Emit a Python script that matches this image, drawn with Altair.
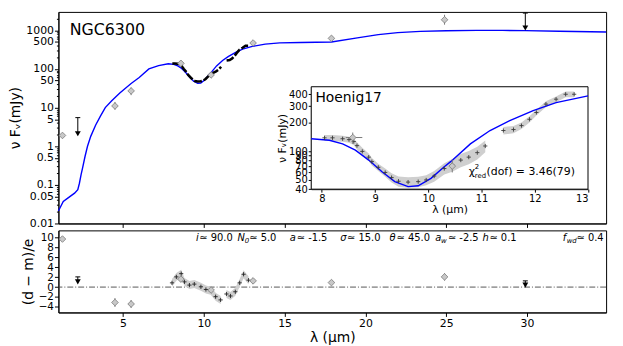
import altair as alt
import pandas as pd

# ---------------- data ----------------
# SED model (blue)
model_x = [1.0, 1.3, 1.6, 2.0, 2.2, 2.3, 2.4, 2.5, 2.65, 2.8, 3.0, 3.3, 3.6, 3.9, 4.3, 4.8,
           5.5, 6.0, 6.6, 7.2, 7.8, 8.14, 8.39, 8.63, 8.88, 9.13, 9.37, 9.62, 9.81, 10.05,
           10.3, 10.42, 10.79, 11.16, 11.53, 11.97, 12.4, 13.0, 13.8, 14.7, 16.0, 17.9,
           19.5, 20.8, 22.0, 23.4, 25.0, 26.9, 28.5, 29.9, 32.0, 34.9]
model_y = [0.021, 0.037, 0.046, 0.061, 0.075, 0.11, 0.18, 0.28, 0.55, 1.0, 1.8, 3.5, 6.0, 10,
           15, 24, 42, 60, 100, 122, 136, 131, 120, 103, 81, 61, 48, 42.6, 43.4, 52,
           69, 78, 120, 166, 211, 269, 327, 384, 440, 473, 485, 500,
           640, 775, 870, 940, 975, 1000, 995, 985, 950, 905]

# Hoenig17 spectrum
spec_x = [8.05, 8.2, 8.39, 8.51, 8.6, 8.66, 8.76, 8.88, 8.94, 9.06, 9.19, 9.31, 9.44, 9.62,
          9.81, 9.96, 10.11, 10.3, 10.45, 10.61, 10.76, 10.92, 11.07,
          11.41, 11.6, 11.75, 11.9, 12.03, 12.21, 12.4, 12.58, 12.74]
spec_y = [139, 139, 136, 133, 127, 115, 100, 87, 78, 68, 60, 53, 48.5, 47.5,
          48, 50, 55, 66, 72, 81, 87, 97, 114,
          166, 170, 187, 218, 257, 315, 355, 400, 400]
spec_err = [10, 10, 10, 10, 10, 10, 9, 8, 7, 6, 6, 6, 6, 6,
            6, 6, 7, 9, 11, 13, 14, 15, 16,
            15, 15, 15, 16, 18, 22, 25, 28, 28]
spec_seg = [0, 0, 0, 0, 0, 0, 0, 0, 0, 0, 0, 0, 0, 0,
            0, 0, 0, 0, 0, 0, 0, 0, 0,
            1, 1, 1, 1, 1, 1, 1, 1, 1]

# photometry
phot_x = [1.25, 4.5, 5.5, 8.58, 10.45, 13.05, 17.9, 24.9]
phot_y = [1.9, 11, 27, 140, 70, 470, 620, 1880]
phot_lo = [1.8, 8.8, 21, 120, 60, 430, 580, 1400]
phot_hi = [2.0, 14, 33, 158, 82, 515, 660, 2530]
phot_xlo = [1.25, 4.5, 5.5, 8.45, 10.45, 13.05, 17.9, 24.9]
phot_xhi = [1.25, 4.5, 5.5, 8.76, 10.45, 13.05, 17.9, 24.9]

ulim_x = [2.2, 29.9]
ulim_y = [2.1, 1150]
ulim_top = [5.5, 2800]

# residuals
res_phot = [9.66, -3.1, -3.4, 1.6, -0.6, 1.25, 0.9, 2.05]
res_phot_lo = [9.2, -4.0, -4.2, 1.0, -1.1, 0.7, 0.5, 1.3]
res_phot_hi = [10.1, -2.2, -2.6, 2.2, -0.1, 1.8, 1.3, 2.8]
res_ulim = [1.05, 0.4]
res_ulim_top = [2.05, 1.25]

rs_x = [8.03, 8.3, 8.6, 8.8, 9.11, 9.41, 9.82, 10.13, 10.43, 10.73, 11.04,
        11.4, 11.65, 11.95, 12.22, 12.46, 12.77]
rs_y = [0.85, 2.05, 2.7, 1.05, 0.4, 0.6, 0.06, -0.48, -0.74, -1.93, -2.58,
        -1.39, -1.79, -0.94, 0.85, 2.58, 1.39]
rs_seg = [0, 0, 0, 0, 0, 0, 0, 0, 0, 0, 0, 1, 1, 1, 1, 1, 1]

# parameter annotation
param_sym = ["i", "N", "a", "σ", "θ", "a", "h", "f"]
param_val = ["≃ 90.0", "≃ 5.0", "≃ -1.5", "≃ 15.0", "≃ 45.0", "≃ -2.5", "≃ 0.1", "≃ 0.4"]
param_sub = ["0", "w", "wd"]

# tick labels
top_major = [1000, 500, 100, 50, 10, 5, 1, 0.5, 0.1, 0.05, 0.01]
x_ticks = [5, 10, 15, 20, 25, 30]
res_ticks = [-4, -2, 0, 2, 4, 6, 8, 10]
inset_x_ticks = [8, 9, 10, 11, 12, 13]
inset_y_ticks = [40, 50, 60, 70, 80, 90, 100, 200, 300, 400]

# ---------------- layout constants ----------------
W, H_TOP, H_BOT = 554, 214, 83
FONT = "DejaVu Sans"
INSET_XR = [255.7, 535.7]
INSET_YR = [179.3, 75.7]
# annotation positions (data coordinates)
param_sym_x = [9.51, 12.08, 15.32, 18.44, 21.50, 24.32, 27.25, 32.21]
param_val_x = [9.72, 12.81, 15.75, 18.87, 21.93, 25.11, 27.68, 33.07]
param_sub_x = [12.54, 24.68, 32.46]

minor = []
for e in range(-2, 4):
    for k in [2, 3, 4, 6, 7, 8, 9]:
        v = k * 10 ** e
        if v < 3000:
            minor.append(v)
top_ticks = sorted(top_major + minor)
major_expr = "indexof(" + str(top_major) + ", datum.value) >= 0"

xs_main = alt.Scale(domain=[1.0, 34.9], nice=False, zero=False)
ys_main = alt.Scale(type="log", domain=[0.01, 3000], nice=False)
xs_in = alt.Scale(domain=[7.8, 13], range=INSET_XR, nice=False, zero=False)
ys_in = alt.Scale(type="log", domain=[40, 480], range=INSET_YR, nice=False)
xs_res = alt.Scale(domain=[1.0, 34.9], nice=False, zero=False)
ys_res = alt.Scale(domain=[-5.1, 11.4], nice=False, zero=False)

ax_top_x = alt.Axis(values=x_ticks, labels=False, title=None, orient="bottom", tickSize=4)
ax_top_y = alt.Axis(values=top_ticks, title="ν Fᵥ(mJy)", orient="left",
                    labelExpr=major_expr + " ? format(datum.value, '~g') : ''",
                    tickSize={"condition": {"test": major_expr, "value": 4}, "value": 2},
                    labelOverlap=False)
ax_in_x = alt.Axis(values=inset_x_ticks, title="λ (μm)", orient="bottom",
                   offset=-(H_TOP - INSET_YR[0]), labelFontSize=10, titleFontSize=11,
                   tickSize=3, titlePadding=1, labelPadding=1)
ax_in_y = alt.Axis(values=inset_y_ticks, title="ν Fᵥ(mJy)", orient="left",
                   offset=-INSET_XR[0], labelFontSize=10, titleFontSize=11, format="~g",
                   labelOverlap=False, tickSize=3, titlePadding=1, labelPadding=1)
ax_res_x = alt.Axis(values=x_ticks, title="λ (μm)", orient="bottom", tickSize=4, titlePadding=2)
ax_res_y = alt.Axis(values=res_ticks, title="(d − m)/e", orient="left", tickSize=4,
                    labelOverlap=False, labelFontSize=10.5)

# ---------------- dataframes ----------------
model_df = pd.DataFrame({"x": model_x, "y": model_y})
spec_df = pd.DataFrame({"x": spec_x, "y": spec_y, "err": spec_err, "seg": spec_seg})
phot_df = pd.DataFrame({"x": phot_x, "y": phot_y, "lo": phot_lo, "hi": phot_hi,
                        "xlo": phot_xlo, "xhi": phot_xhi, "r": res_phot,
                        "rlo": res_phot_lo, "rhi": res_phot_hi})
ulim_df = pd.DataFrame({"x": ulim_x, "y": ulim_y, "top": ulim_top,
                        "r": res_ulim, "rtop": res_ulim_top})
rs_df = pd.DataFrame({"x": rs_x, "r": rs_y, "seg": rs_seg})
psym_df = pd.DataFrame({"x": param_sym_x, "t": param_sym})
pval_df = pd.DataFrame({"x": param_val_x, "t": param_val})
psub_df = pd.DataFrame({"x": param_sub_x, "t": param_sub})

DIAMOND = dict(shape="diamond", filled=True, fill="#c8c8c8", stroke="#7a7a7a",
               strokeWidth=0.8, size=45, opacity=1)
PLUS = "M-1,0L1,0M0,-1L0,1"

# ---------------- top (main) panel ----------------
def X(f):
    return alt.X(f, type="quantitative", scale=xs_main, axis=ax_top_x)

def Y(f):
    return alt.Y(f, type="quantitative", scale=ys_main, axis=ax_top_y)

m_model = alt.Chart(model_df).mark_line(color="#0000ff", strokeWidth=1.4).encode(x=X("x"), y=Y("y"))
m_spec = alt.Chart(spec_df).mark_line(color="black", strokeWidth=2.6, strokeDash=[8, 2]).encode(
    x=X("x"), y=Y("y"), detail="seg:N")
m_err = alt.Chart(phot_df).mark_rule(color="#7a7a7a", strokeWidth=1).encode(
    x=X("x"), y=Y("lo"), y2="hi")
m_pts = alt.Chart(phot_df).mark_point(**DIAMOND).encode(x=X("x"), y=Y("y"))
m_ul = alt.Chart(ulim_df).mark_rule(color="black", strokeWidth=1).encode(x=X("x"), y=Y("y"), y2="top")
m_ulcap = alt.Chart(ulim_df).mark_point(shape="M-1,0L1,0", size=25, color="black",
                                         strokeWidth=1, opacity=1).encode(x=X("x"), y=Y("top"))
m_ulhead = alt.Chart(ulim_df).mark_point(shape="triangle-down", filled=True, size=35,
                                          color="black", opacity=1).encode(x=X("x"), y=Y("y"))
m_name = alt.Chart(pd.DataFrame({"x": [1.7], "y": [1000], "t": ["NGC6300"]})).mark_text(
    font=FONT, fontSize=16, align="left", baseline="middle", color="black").encode(
    x=X("x"), y=Y("y"), text="t:N")

main_layer = alt.layer(m_model, m_spec, m_err, m_pts, m_ul, m_ulcap, m_ulhead, m_name)

# ---------------- inset ----------------
def XI(f):
    return alt.X(f, type="quantitative", scale=xs_in, axis=ax_in_x)

def YI(f):
    return alt.Y(f, type="quantitative", scale=ys_in, axis=ax_in_y)

frame_df = pd.DataFrame({"x0": [7.8], "x1": [13.0], "y0": [40], "y1": [480]})
i_frame = alt.Chart(frame_df).mark_rect(fill="white", stroke="black", strokeWidth=1).encode(
    x=XI("x0"), x2="x1", y=YI("y0"), y2="y1")
i_band = alt.Chart(spec_df).transform_calculate(
    lo="datum.y - datum.err", hi="datum.y + datum.err").mark_area(
    color="#cfcfcf", opacity=1).encode(x=XI("x"), y=YI("lo"), y2="hi", detail="seg:N")
i_spec = alt.Chart(spec_df).mark_point(shape=PLUS, size=18, color="#3a3a3a",
                                        strokeWidth=0.9, opacity=1).encode(x=XI("x"), y=YI("y"))
i_model = alt.Chart(model_df).transform_filter(
    "datum.x >= 7.8 && datum.x <= 13").mark_line(color="#0000ff", strokeWidth=1.4).encode(
    x=XI("x"), y=YI("y"))
in_phot = phot_df[(phot_df.x > 8) & (phot_df.x < 13)]
i_err = alt.Chart(in_phot).mark_rule(color="#7a7a7a", strokeWidth=1).encode(
    x=XI("x"), y=YI("lo"), y2="hi")
i_xerr = alt.Chart(in_phot).mark_rule(color="#7a7a7a", strokeWidth=1).encode(
    x=XI("xlo"), x2="xhi", y=YI("y"))
i_pts = alt.Chart(in_phot).mark_point(**DIAMOND).encode(x=XI("x"), y=YI("y"))
i_name = alt.Chart(pd.DataFrame({"x": [7.88], "y": [369], "t": ["Hoenig17"]})).mark_text(
    font=FONT, fontSize=14, align="left", baseline="middle", color="black").encode(
    x=XI("x"), y=YI("y"), text="t:N")
chi_df = pd.DataFrame({"x": [10.76], "y": [61]})
i_chi = alt.Chart(chi_df).mark_text(font=FONT, fontSize=11, align="left", baseline="middle",
                                     color="black", text="χ").encode(x=XI("x"), y=YI("y"))
i_chi2 = alt.Chart(chi_df).mark_text(font=FONT, fontSize=7, align="left", baseline="middle",
                                      color="black", text="2", dx=6, dy=-5).encode(x=XI("x"), y=YI("y"))
i_chired = alt.Chart(chi_df).mark_text(font=FONT, fontSize=7, align="left", baseline="middle",
                                        color="black", text="red", dx=6, dy=4).encode(x=XI("x"), y=YI("y"))
i_chival = alt.Chart(chi_df).mark_text(font=FONT, fontSize=11, align="left", baseline="middle",
                                        color="black", text="(dof) = 3.46(79)", dx=18).encode(
    x=XI("x"), y=YI("y"))

inset_layer = alt.layer(i_frame, i_band, i_model, i_spec, i_err, i_xerr, i_pts,
                        i_name, i_chi, i_chi2, i_chired, i_chival)

top = alt.layer(main_layer, inset_layer).resolve_scale(
    x="independent", y="independent").resolve_axis(x="independent", y="independent").properties(
    width=W, height=H_TOP)

# ---------------- residual panel ----------------
def XR(f):
    return alt.X(f, type="quantitative", scale=xs_res, axis=ax_res_x)

def YR(f):
    return alt.Y(f, type="quantitative", scale=ys_res, axis=ax_res_y)

r_zero = alt.Chart(pd.DataFrame({"z": [0]})).mark_rule(
    color="#444444", strokeWidth=0.9, strokeDash=[6, 2, 1, 2]).encode(y=YR("z"))
r_band = alt.Chart(rs_df).transform_calculate(
    lo="datum.r - 0.8", hi="datum.r + 0.8").mark_area(color="#cfcfcf", opacity=1).encode(
    x=XR("x"), y=YR("lo"), y2="hi", detail="seg:N")
r_spec = alt.Chart(rs_df).mark_point(shape=PLUS, size=18, color="#222222",
                                      strokeWidth=0.9, opacity=1).encode(x=XR("x"), y=YR("r"))
r_err = alt.Chart(phot_df).mark_rule(color="#7a7a7a", strokeWidth=1).encode(
    x=XR("x"), y=YR("rlo"), y2="rhi")
r_pts = alt.Chart(phot_df).mark_point(**DIAMOND).encode(x=XR("x"), y=YR("r"))
r_ul = alt.Chart(ulim_df).mark_rule(color="black", strokeWidth=1).encode(x=XR("x"), y=YR("r"), y2="rtop")
r_ulcap = alt.Chart(ulim_df).mark_point(shape="M-1,0L1,0", size=25, color="black",
                                         strokeWidth=1, opacity=1).encode(x=XR("x"), y=YR("rtop"))
r_ulhead = alt.Chart(ulim_df).mark_point(shape="triangle-down", filled=True, size=35,
                                          color="black", opacity=1).encode(x=XR("x"), y=YR("r"))
PY = 9.8
r_sym = alt.Chart(psym_df).transform_calculate(yy=str(PY)).mark_text(
    font=FONT, fontSize=10, fontStyle="italic", align="left", baseline="middle",
    color="black").encode(x=XR("x"), y=YR("yy:Q"), text="t:N")
r_val = alt.Chart(pval_df).transform_calculate(yy=str(PY)).mark_text(
    font=FONT, fontSize=10, align="left", baseline="middle", color="black").encode(
    x=XR("x"), y=YR("yy:Q"), text="t:N")
r_sub = alt.Chart(psub_df).transform_calculate(yy=str(PY)).mark_text(
    font=FONT, fontSize=7, fontStyle="italic", align="left", baseline="middle",
    color="black", dy=3).encode(x=XR("x"), y=YR("yy:Q"), text="t:N")

bottom = alt.layer(r_zero, r_band, r_spec, r_err, r_pts, r_ul, r_ulcap, r_ulhead,
                   r_sym, r_val, r_sub).properties(width=W, height=H_BOT)

chart = alt.vconcat(top, bottom, spacing=0).properties(
    padding={"left": 0, "top": 0, "right": 5, "bottom": 0},
    background="white").configure_view(stroke="black", strokeWidth=1).configure_axis(
    grid=False, domainColor="black", tickColor="black", labelColor="black",
    titleColor="black", labelFont=FONT, titleFont=FONT, labelFontSize=11,
    titleFontSize=14, titleFontWeight="normal", labelPadding=1, titlePadding=3,
    domainWidth=1, tickWidth=1)

chart.save("out.html", embed_options={"renderer": "svg", "actions": False})
